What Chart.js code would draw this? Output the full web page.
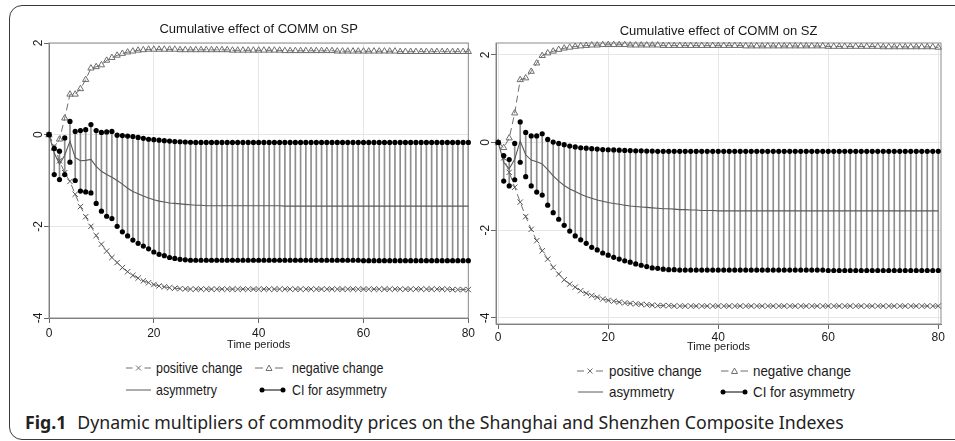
<!DOCTYPE html>
<html>
<head>
<meta charset="utf-8">
<script src="https://cdn.jsdelivr.net/npm/chart.js@4.4.1/dist/chart.umd.min.js"></script>
<style>
  html, body { margin: 0; padding: 0; background: #fff; }
  body { position: relative; width: 955px; height: 441px; overflow: hidden; }
  .frame { position: absolute; left: 9px; top: 5px; width: 1000px; height: 433px; border: 1.5px solid #3a3a3a; border-radius: 13px; }
  canvas.plot { position: absolute; }
  canvas.icon { position: absolute; }
  .leg { position: absolute; font-family: "Liberation Sans", Arial, sans-serif; font-size: 15px; line-height: 18px; color: #1a1a1a; white-space: nowrap; transform-origin: 0 50%; }
  .caption { position: absolute; left: 25px; top: 410px; font-family: "Noto Sans", sans-serif; font-size: 17.7px; line-height: 24px; color: #222; white-space: nowrap; }
  .caption b { margin-right: 11px; }
</style>
</head>
<body>
<div class="frame"></div>
<canvas id="chartSP" class="plot" width="466" height="342" style="left:12px;top:10px;width:466px;height:342px"></canvas>
<canvas id="chartSZ" class="plot" width="485" height="344" style="left:470px;top:10px;width:485px;height:344px"></canvas>
<div id="legends"></div>
<div class="caption"><b>Fig.1</b>Dynamic multipliers of commodity prices on the Shanghai and Shenzhen Composite Indexes</div>
<script>
"use strict";

// time periods 0..80 and axis ticks
const aPeriods = Array.from({ length: 81 }, function(_, i) { return i; });
const aXTicks = [0, 20, 40, 60, 80];
const aYTicks = [-4, -2, 0, 2];
const aLegendLabels = ["positive change", "negative change", "asymmetry", "CI for asymmetry"];

// Shanghai (SP)
const aSpPositive = [
    0, -0.25, -0.57, -0.83, -1.02, -1.3, -1.57, -1.79, -2.0, -2.2,
    -2.39, -2.54, -2.68, -2.79, -2.9, -2.99, -3.07, -3.13, -3.19, -3.23,
    -3.27, -3.3, -3.32, -3.34, -3.35, -3.36, -3.365, -3.37, -3.37, -3.37,
    -3.37, -3.37, -3.37, -3.37, -3.37, -3.37, -3.37, -3.37, -3.37, -3.37,
    -3.37, -3.37, -3.37, -3.37, -3.37, -3.37, -3.37, -3.37, -3.37, -3.37,
    -3.37, -3.37, -3.37, -3.37, -3.37, -3.37, -3.37, -3.37, -3.37, -3.37,
    -3.37, -3.37, -3.37, -3.37, -3.37, -3.37, -3.37, -3.37, -3.37, -3.37,
    -3.37, -3.37, -3.37, -3.37, -3.37, -3.37, -3.37, -3.38, -3.38, -3.38,
    -3.38
];
const aSpNegative = [
    0, -0.3, -0.1, 0.36, 0.88, 0.88, 1.0, 1.2, 1.45, 1.48,
    1.52, 1.62, 1.68, 1.73, 1.77, 1.8, 1.82, 1.84, 1.85, 1.86,
    1.86, 1.86, 1.86, 1.86, 1.86, 1.85, 1.85, 1.85, 1.85, 1.85,
    1.85, 1.85, 1.85, 1.85, 1.85, 1.84, 1.84, 1.84, 1.84, 1.84,
    1.84, 1.84, 1.84, 1.84, 1.84, 1.83, 1.83, 1.83, 1.83, 1.83,
    1.83, 1.83, 1.83, 1.83, 1.83, 1.82, 1.82, 1.82, 1.82, 1.82,
    1.82, 1.82, 1.82, 1.82, 1.82, 1.82, 1.82, 1.81, 1.81, 1.81,
    1.81, 1.81, 1.81, 1.81, 1.81, 1.81, 1.81, 1.81, 1.81, 1.81,
    1.81
];
const aSpAsymmetry = [
    0, -0.4, -0.64, -0.45, -0.14, -0.5, -0.57, -0.56, -0.54, -0.69,
    -0.8, -0.87, -0.93, -1.0, -1.08, -1.17, -1.24, -1.29, -1.34, -1.38,
    -1.42, -1.45, -1.47, -1.49, -1.5, -1.51, -1.52, -1.53, -1.54, -1.54,
    -1.55, -1.55, -1.55, -1.55, -1.55, -1.55, -1.55, -1.55, -1.55, -1.55,
    -1.55, -1.55, -1.55, -1.55, -1.55, -1.56, -1.56, -1.56, -1.56, -1.56,
    -1.56, -1.56, -1.56, -1.56, -1.56, -1.56, -1.56, -1.56, -1.56, -1.56,
    -1.56, -1.56, -1.56, -1.56, -1.56, -1.56, -1.56, -1.56, -1.56, -1.56,
    -1.56, -1.56, -1.56, -1.56, -1.56, -1.56, -1.56, -1.56, -1.56, -1.56,
    -1.56
];
const aSpUpper = [
    0, -0.3, -0.36, -0.07, 0.29, 0.07, 0.09, 0.11, 0.22, 0.09,
    0.05, 0.06, 0.07, -0.01, -0.02, -0.03, -0.04, -0.06, -0.08, -0.1,
    -0.11, -0.12, -0.13, -0.14, -0.15, -0.155, -0.16, -0.165, -0.17, -0.17,
    -0.17, -0.17, -0.17, -0.17, -0.17, -0.17, -0.17, -0.17, -0.17, -0.17,
    -0.17, -0.17, -0.17, -0.17, -0.17, -0.17, -0.17, -0.17, -0.17, -0.17,
    -0.17, -0.17, -0.17, -0.17, -0.17, -0.17, -0.17, -0.17, -0.17, -0.17,
    -0.17, -0.17, -0.17, -0.17, -0.17, -0.17, -0.17, -0.17, -0.17, -0.17,
    -0.17, -0.17, -0.17, -0.17, -0.17, -0.17, -0.17, -0.17, -0.17, -0.17,
    -0.17
];
const aSpLower = [
    0, -0.87, -0.98, -0.87, -0.6, -1.0, -1.23, -1.25, -1.27, -1.5,
    -1.67, -1.78, -1.83, -2.0, -2.12, -2.21, -2.3, -2.37, -2.43, -2.49,
    -2.56, -2.61, -2.64, -2.68, -2.7, -2.72, -2.73, -2.74, -2.74, -2.74,
    -2.74, -2.74, -2.74, -2.74, -2.74, -2.74, -2.74, -2.74, -2.74, -2.74,
    -2.74, -2.74, -2.74, -2.74, -2.74, -2.74, -2.74, -2.74, -2.74, -2.74,
    -2.74, -2.74, -2.74, -2.74, -2.74, -2.74, -2.74, -2.74, -2.74, -2.74,
    -2.75, -2.75, -2.75, -2.75, -2.75, -2.75, -2.75, -2.75, -2.75, -2.75,
    -2.75, -2.75, -2.75, -2.75, -2.75, -2.75, -2.75, -2.75, -2.75, -2.75,
    -2.75
];

// Shenzhen (SZ)
const aSzPositive = [
    0, -0.35, -0.68, -1.02, -1.36, -1.69, -1.98, -2.24, -2.47, -2.66,
    -2.85, -3.0, -3.13, -3.23, -3.3, -3.38, -3.44, -3.49, -3.53, -3.57,
    -3.6, -3.62, -3.64, -3.66, -3.67, -3.68, -3.69, -3.7, -3.71, -3.72,
    -3.72, -3.72, -3.73, -3.73, -3.73, -3.73, -3.73, -3.73, -3.73, -3.73,
    -3.73, -3.73, -3.73, -3.73, -3.73, -3.73, -3.73, -3.73, -3.73, -3.73,
    -3.73, -3.73, -3.73, -3.73, -3.73, -3.73, -3.73, -3.73, -3.73, -3.73,
    -3.73, -3.73, -3.73, -3.73, -3.73, -3.73, -3.73, -3.73, -3.73, -3.73,
    -3.73, -3.73, -3.73, -3.73, -3.73, -3.73, -3.73, -3.73, -3.73, -3.73,
    -3.73
];
const aSzNegative = [
    0, -0.12, 0.1, 0.67, 1.43, 1.47, 1.62, 1.81, 1.98, 2.04,
    2.08, 2.12, 2.15, 2.17, 2.19, 2.2, 2.21, 2.22, 2.22, 2.23,
    2.23, 2.23, 2.23, 2.23, 2.22, 2.22, 2.22, 2.22, 2.22, 2.22,
    2.21, 2.21, 2.21, 2.21, 2.21, 2.21, 2.21, 2.21, 2.21, 2.21,
    2.21, 2.21, 2.21, 2.21, 2.21, 2.2, 2.2, 2.2, 2.2, 2.2,
    2.2, 2.2, 2.2, 2.2, 2.2, 2.2, 2.2, 2.2, 2.2, 2.2,
    2.19, 2.19, 2.19, 2.19, 2.19, 2.19, 2.19, 2.19, 2.19, 2.19,
    2.18, 2.18, 2.18, 2.18, 2.18, 2.18, 2.18, 2.18, 2.18, 2.18,
    2.17
];
const aSzAsymmetry = [
    0, -0.45, -0.6, -0.38, 0.03, -0.28, -0.4, -0.44, -0.49, -0.62,
    -0.76, -0.88, -0.98, -1.06, -1.12, -1.18, -1.23, -1.27, -1.31, -1.34,
    -1.37, -1.39, -1.41, -1.43, -1.45, -1.46, -1.47, -1.48, -1.49, -1.5,
    -1.51, -1.51, -1.52, -1.53, -1.53, -1.54, -1.54, -1.55, -1.55, -1.55,
    -1.56, -1.56, -1.56, -1.56, -1.56, -1.56, -1.56, -1.56, -1.56, -1.56,
    -1.56, -1.56, -1.56, -1.56, -1.56, -1.56, -1.56, -1.56, -1.56, -1.56,
    -1.56, -1.56, -1.56, -1.56, -1.56, -1.56, -1.56, -1.56, -1.56, -1.56,
    -1.56, -1.56, -1.56, -1.56, -1.56, -1.56, -1.56, -1.56, -1.56, -1.56,
    -1.56
];
const aSzUpper = [
    0, -0.3, -0.39, -0.02, 0.47, 0.23, 0.15, 0.15, 0.2, 0.07,
    0.01, -0.02, -0.05, -0.08, -0.1, -0.12, -0.13, -0.14, -0.15, -0.16,
    -0.165, -0.17, -0.175, -0.18, -0.185, -0.19, -0.19, -0.195, -0.195, -0.2,
    -0.2, -0.2, -0.2, -0.2, -0.2, -0.2, -0.2, -0.2, -0.2, -0.2,
    -0.2, -0.2, -0.2, -0.2, -0.2, -0.2, -0.2, -0.2, -0.2, -0.2,
    -0.2, -0.2, -0.2, -0.2, -0.2, -0.2, -0.2, -0.2, -0.2, -0.2,
    -0.2, -0.2, -0.2, -0.2, -0.2, -0.2, -0.2, -0.2, -0.2, -0.2,
    -0.2, -0.2, -0.2, -0.2, -0.2, -0.2, -0.2, -0.2, -0.2, -0.2,
    -0.2
];
const aSzLower = [
    0, -0.88, -0.99, -0.85, -0.45, -0.78, -0.99, -1.13, -1.2, -1.43,
    -1.6, -1.75, -1.89, -2.02, -2.13, -2.22, -2.3, -2.39, -2.45, -2.52,
    -2.57, -2.62, -2.66, -2.7, -2.73, -2.77, -2.8, -2.83, -2.86, -2.87,
    -2.89, -2.9, -2.9, -2.91, -2.91, -2.91, -2.91, -2.91, -2.91, -2.91,
    -2.91, -2.91, -2.91, -2.91, -2.91, -2.91, -2.91, -2.91, -2.91, -2.91,
    -2.91, -2.91, -2.91, -2.91, -2.91, -2.91, -2.91, -2.91, -2.91, -2.91,
    -2.92, -2.92, -2.92, -2.92, -2.92, -2.92, -2.92, -2.92, -2.92, -2.92,
    -2.92, -2.92, -2.92, -2.92, -2.92, -2.92, -2.92, -2.92, -2.92, -2.92,
    -2.92
];

Chart.defaults.font.family = "'Liberation Sans', Arial, sans-serif";
Chart.defaults.color = "#222";

const oFramePlugin = {
    id: "plotFrame",
    beforeDatasetsDraw: function(oChart) {
        const oArea = oChart.chartArea;
        const oCtx = oChart.ctx;
        oCtx.save();
        oCtx.strokeStyle = "#8c8c8c";
        oCtx.lineWidth = 1;
        oCtx.strokeRect(oArea.left, oArea.top, oArea.right - oArea.left, oArea.bottom - oArea.top);
        oCtx.restore();
    }
};

function toPoints(aValues) {
    return aPeriods.map(function(iPeriod, i) {
        return { x: iPeriod, y: aValues[i] };
    });
}

function buildPanel(sCanvasId, oPanel) {
    const aRange = aPeriods.map(function(iPeriod, i) {
        return { x: iPeriod, y: [oPanel.lower[i], oPanel.upper[i]] };
    });

    const oDatasets = [
        { type: "line", data: toPoints(oPanel.upper), showLine: false, pointStyle: "circle",
          pointRadius: 2.6, pointBackgroundColor: "#000", pointBorderWidth: 0, clip: false },
        { type: "line", data: toPoints(oPanel.lower), showLine: false, pointStyle: "circle",
          pointRadius: 2.6, pointBackgroundColor: "#000", pointBorderWidth: 0, clip: false },
        { type: "line", data: toPoints(oPanel.negative), borderColor: "#6e6e6e", borderWidth: 1,
          borderDash: [7, 4], pointStyle: "triangle", pointRadius: 3.6, pointBorderColor: "#6e6e6e",
          pointBackgroundColor: "rgba(255,255,255,0)", pointBorderWidth: 1, tension: 0, clip: false },
        { type: "line", data: toPoints(oPanel.positive), borderColor: "#6e6e6e", borderWidth: 1,
          borderDash: [7, 4], pointStyle: "crossRot", pointRadius: 3.8, pointBorderColor: "#555",
          pointBorderWidth: 1, tension: 0, clip: false },
        { type: "line", data: toPoints(oPanel.asymmetry), borderColor: "#5a5a5a", borderWidth: 1.1,
          pointRadius: 0, tension: 0, clip: false },
        { type: "bar", data: aRange, backgroundColor: "#8e8e8e", borderWidth: 0, barThickness: 1 }
    ];

    const oChartOptions = {
        responsive: false,
        animation: false,
        events: [],
        layout: { padding: { left: 0, right: oPanel.padRight, top: 0, bottom: 0 } },
        plugins: {
            legend: { display: false },
            tooltip: { enabled: false },
            title: {
                display: true,
                fullSize: false,
                text: oPanel.title,
                color: "#1a1a1a",
                font: { size: 13, weight: "normal" },
                padding: oPanel.titlePadding
            }
        },
        scales: {
            x: {
                type: "linear",
                min: oPanel.xMin,
                max: oPanel.xMax,
                offset: false,
                afterBuildTicks: function(oScale) {
                    oScale.ticks = aXTicks.map(function(v) { return { value: v }; });
                },
                afterFit: function(oScale) { oScale.height = oPanel.xAxisHeight; },
                grid: { color: "#e6e6e6", tickColor: "#666", tickLength: 5, offset: false },
                border: { color: "#777" },
                ticks: { color: "#1a1a1a", font: { size: 12 }, padding: oPanel.xTickPad, maxRotation: 0, autoSkip: false },
                title: { display: true, text: "Time periods", color: "#1a1a1a", font: { size: 11 }, padding: 0 }
            },
            y: {
                type: "linear",
                min: oPanel.yMin,
                max: oPanel.yMax,
                afterBuildTicks: function(oScale) {
                    oScale.ticks = aYTicks.map(function(v) { return { value: v }; });
                },
                afterFit: function(oScale) { oScale.width = oPanel.yAxisWidth; },
                grid: { color: "#e6e6e6", tickColor: "#666", tickLength: 5, offset: false },
                border: { color: "#777" },
                ticks: { color: "#1a1a1a", font: { size: 12 }, padding: 0, minRotation: 90, maxRotation: 90, crossAlign: "center" }
            }
        }
    };

    return new Chart(document.getElementById(sCanvasId), {
        type: "line",
        data: { datasets: oDatasets },
        options: oChartOptions,
        plugins: [oFramePlugin]
    });
}

function drawIcon(oCanvas, sKind) {
    const oCtx = oCanvas.getContext("2d");
    const iW = oCanvas.width;
    const iY = oCanvas.height / 2;
    oCtx.lineWidth = 1;
    if (sKind === "ci") {
        oCtx.strokeStyle = "#000";
        oCtx.fillStyle = "#000";
        oCtx.beginPath(); oCtx.moveTo(3, iY); oCtx.lineTo(iW - 3, iY); oCtx.stroke();
        [3, iW - 3].forEach(function(x) {
            oCtx.beginPath(); oCtx.arc(x, iY, 2.5, 0, Math.PI * 2); oCtx.fill();
        });
        return;
    }
    oCtx.strokeStyle = sKind === "asym" ? "#5a5a5a" : "#6e6e6e";
    if (sKind === "asym") {
        oCtx.beginPath(); oCtx.moveTo(0, iY); oCtx.lineTo(iW, iY); oCtx.stroke();
        return;
    }
    const iMid = iW / 2;
    oCtx.beginPath();
    oCtx.moveTo(0, iY); oCtx.lineTo(iMid - 6, iY);
    oCtx.moveTo(iMid + 6, iY); oCtx.lineTo(iW, iY);
    oCtx.stroke();
    oCtx.beginPath();
    if (sKind === "pos") {
        oCtx.moveTo(iMid - 2.5, iY - 2.5); oCtx.lineTo(iMid + 2.5, iY + 2.5);
        oCtx.moveTo(iMid + 2.5, iY - 2.5); oCtx.lineTo(iMid - 2.5, iY + 2.5);
    } else {
        oCtx.moveTo(iMid, iY - 3); oCtx.lineTo(iMid + 3, iY + 2.5); oCtx.lineTo(iMid - 3, iY + 2.5); oCtx.closePath();
    }
    oCtx.stroke();
}

function buildLegend(aLayout, fSquash) {
    const oHost = document.getElementById("legends");
    const aKinds = ["pos", "neg", "asym", "ci"];
    aLayout.forEach(function(oItem, i) {
        const oIcon = document.createElement("canvas");
        oIcon.className = "icon";
        oIcon.width = oItem.iconW;
        oIcon.height = 10;
        oIcon.style.left = oItem.iconX + "px";
        oIcon.style.top = (oItem.y - 5) + "px";
        oHost.appendChild(oIcon);
        drawIcon(oIcon, aKinds[i]);

        const oText = document.createElement("div");
        oText.className = "leg";
        oText.textContent = aLegendLabels[i];
        oText.style.left = oItem.textX + "px";
        oText.style.top = (oItem.y - 9) + "px";
        oText.style.transform = "scaleX(" + fSquash + ")";
        oHost.appendChild(oText);
    });
}

buildPanel("chartSP", {
    title: "Cumulative effect of COMM on SP",
    positive: aSpPositive, negative: aSpNegative, asymmetry: aSpAsymmetry,
    upper: aSpUpper, lower: aSpLower,
    xMin: 0, xMax: 80, yMin: -4, yMax: 2,
    padRight: 9, titlePadding: { top: 12, bottom: 5.4 },
    yAxisWidth: 37, xAxisHeight: 34, xTickPad: 3
});

buildPanel("chartSZ", {
    title: "Cumulative effect of COMM on SZ",
    positive: aSzPositive, negative: aSzNegative, asymmetry: aSzAsymmetry,
    upper: aSzUpper, lower: aSzLower,
    xMin: -0.4, xMax: 80.5, yMin: -4.14, yMax: 2.27,
    padRight: 14, titlePadding: { top: 13.6, bottom: 3.8 },
    yAxisWidth: 26, xAxisHeight: 30, xTickPad: 1
});

buildLegend([
    { iconX: 126, iconW: 25, textX: 156, y: 368 },
    { iconX: 255, iconW: 28, textX: 292, y: 368 },
    { iconX: 126, iconW: 25, textX: 156, y: 390 },
    { iconX: 259, iconW: 27, textX: 292, y: 390 }
], 0.83);
buildLegend([
    { iconX: 577, iconW: 26, textX: 609, y: 371 },
    { iconX: 721, iconW: 27, textX: 753, y: 371 },
    { iconX: 578, iconW: 25, textX: 609, y: 392 },
    { iconX: 720, iconW: 28, textX: 753, y: 392 }
], 0.89);
</script>
</body>
</html>
